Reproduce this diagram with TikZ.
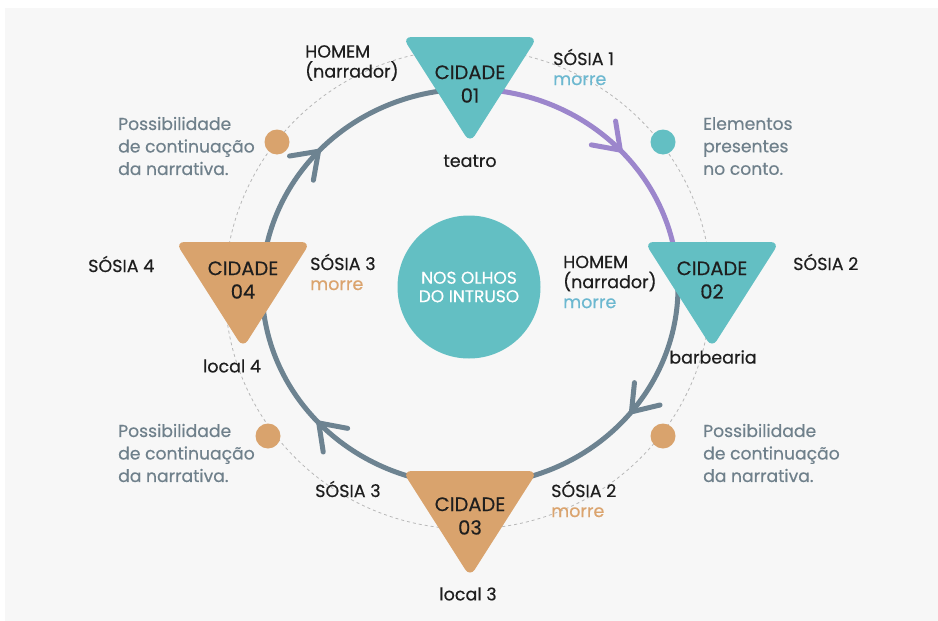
\documentclass[tikz,border=0pt]{standalone}
\usepackage{fontspec}
\setmainfont{Poppins}[FakeBold=0.4]
\usetikzlibrary{arrows.meta,decorations.markings}
\definecolor{bgc}{HTML}{F7F7F7}
\definecolor{tealc}{HTML}{63BFC3}
\definecolor{orangec}{HTML}{D9A36D}
\definecolor{purplec}{HTML}{9C86CC}
\definecolor{ringc}{HTML}{6D8391}
\definecolor{graytxt}{HTML}{6F808B}
\definecolor{morreteal}{HTML}{6CB8D0}
\definecolor{morreorange}{HTML}{DBA46E}
\definecolor{dashc}{HTML}{B8B8B8}
\definecolor{inkc}{HTML}{1E1E1E}
\newcommand\citytri[3]{\fill[#3, rounded corners=9pt] (#1-67.5,#2) -- (#1+67.5,#2) -- (#1,#2+106) -- cycle;}
\begin{document}
\begin{tikzpicture}[x=1pt,y=-1pt,
  lbl/.style={inkc, inner sep=0pt, align=left, font=\fontsize{17.5}{20}\selectfont},
  sublbl/.style={inkc, inner sep=0pt, font=\fontsize{17.5}{20}\selectfont},
  gtxt/.style={graytxt, inner sep=0pt, align=left, font=\fontsize{17.2}{22.5}\selectfont},
  ctxt/.style={inkc, inner sep=0pt, align=center, font=\fontsize{19.5}{23.5}\selectfont},
  dotn/.style={circle, inner sep=0pt, minimum size=25pt},
  ringline/.style={line width=5pt, line cap=round},
  chev/.tip={Straight Barb[length=24pt,width=34pt,line width=5pt,round]}
]
\useasboundingbox (0,0) rectangle (938,621);
\fill[bgc] (5,8) rectangle (938,621);
% dashed guide circle
\draw[dashc, line width=0.8pt, dash pattern=on 3pt off 3pt] (468,289) ellipse [x radius=243, y radius=240];
% ring: gray part
\draw[ringc, ringline, postaction={decorate},
  decoration={markings,
    mark=at position 0.16 with {\arrow{chev}},
    mark=at position 0.52 with {\arrow{chev}},
    mark=at position 0.83 with {\arrow{chev}}}]
  (470,287) ++(-5:208 and 198) arc[start angle=-5, end angle=270, x radius=208, y radius=198];
% ring: purple part
\draw[purplec, ringline, postaction={decorate},
  decoration={markings, mark=at position 0.56 with {\arrow{chev}}}]
  (470,287) ++(-90:208 and 198) arc[start angle=-90, end angle=-5, x radius=208, y radius=198];
% dots
\node[dotn, fill=orangec] (dA) at (277,142) {};
\node[dotn, fill=tealc] (dB) at (663,142) {};
\node[dotn, fill=orangec] (dC) at (268,436) {};
\node[dotn, fill=orangec] (dD) at (663,436) {};
% triangles
\citytri{470}{37}{tealc}
\citytri{712}{242}{tealc}
\citytri{243}{242}{orangec}
\citytri{470}{471}{orangec}
\node[ctxt] (c1) at (470,84) {CIDADE\\01};
\node[ctxt] (c2) at (712,280) {CIDADE\\02};
\node[ctxt] (c4) at (243,280) {CIDADE\\04};
\node[ctxt] (c3) at (470,516) {CIDADE\\03};
% centre
\node[circle, fill=tealc, minimum size=143pt, inner sep=0pt, text=white, align=center,
  font=\fontsize{17}{18.5}\selectfont] (mid) at (469,287) {NOS OLHOS\\DO INTRUSO};
% labels city 01
\node[lbl, anchor=west] (h1) at (305,63) {HOMEM\\(narrador)};
\node[lbl, anchor=west] (s1) at (553,67) {SÓSIA 1\\{\color{morreteal}morre}};
\node[sublbl] (t1) at (470,161) {teatro};
% city 02
\node[lbl, anchor=west] (h2) at (563,282) {HOMEM\\(narrador)\\{\color{morreteal}morre}};
\node[lbl, anchor=west] (s2) at (793,262) {SÓSIA 2};
\node[sublbl] (t2) at (713,357) {barbearia};
% city 04
\node[lbl, anchor=west] (s4) at (88,264) {SÓSIA 4};
\node[lbl, anchor=west] (s3a) at (310,272) {SÓSIA 3\\{\color{morreorange}morre}};
\node[sublbl] (t4) at (232,366) {local 4};
% city 03
\node[lbl, anchor=west] (s3b) at (315,489) {SÓSIA 3};
\node[lbl, anchor=west] (s2b) at (551,499) {SÓSIA 2\\{\color{morreorange}morre}};
\node[sublbl] (t3) at (468,594) {local 3};
% grey notes
\node[gtxt, anchor=west] (gA) at (118,146) {Possibilidade\\de continuação\\da narrativa.};
\node[gtxt, anchor=west] (gB) at (703,146) {Elementos\\presentes\\no conto.};
\node[gtxt, anchor=west] (gC) at (118,453) {Possibilidade\\de continuação\\da narrativa.};
\node[gtxt, anchor=west] (gD) at (703,453) {Possibilidade\\de continuação\\da narrativa.};
\end{tikzpicture}
\end{document}
